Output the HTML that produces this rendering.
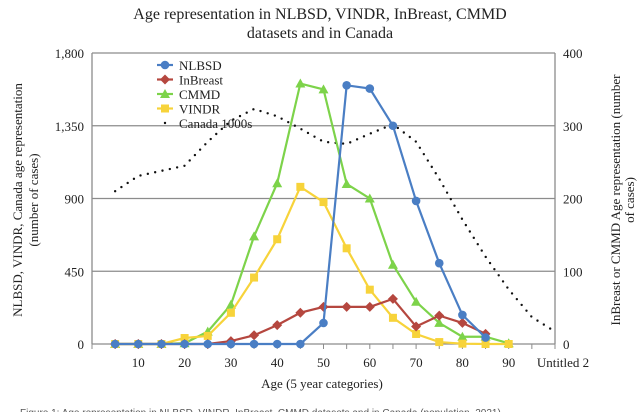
<!DOCTYPE html>
<html><head><meta charset="utf-8"><style>
html,body{margin:0;padding:0;background:#fff;}
svg{display:block;font-family:"Liberation Serif",serif;}
</style></head><body>
<svg id="chart" width="640" height="412" viewBox="0 0 640 412" xmlns="http://www.w3.org/2000/svg">
<text x="320" y="19" text-anchor="middle" font-size="16" fill="#222">Age representation in NLBSD, VINDR, InBreast, CMMD</text>
<text x="320" y="38" text-anchor="middle" font-size="16" fill="#222">datasets and in Canada</text>
<g id="grid"></g>
<g id="axes"></g>
<g id="series"></g>
<g id="legend"></g>
<text x="322" y="388" text-anchor="middle" font-size="13" fill="#222">Age (5 year categories)</text>
<text transform="translate(22,200) rotate(-90)" text-anchor="middle" font-size="13" fill="#222">NLBSD, VINDR,  Canada age representation</text>
<text transform="translate(38,200) rotate(-90)" text-anchor="middle" font-size="13" fill="#222">(number of cases)</text>
<text transform="translate(620,200) rotate(-90)" text-anchor="middle" font-size="13" fill="#222">InBreast or CMMD  Age representation (number</text>
<text transform="translate(634,200) rotate(-90)" text-anchor="middle" font-size="13" fill="#222">of cases)</text>
<text x="20" y="416" font-family="Liberation Sans, sans-serif" font-size="10" fill="#555">Figure 1: Age representation in NLBSD, VINDR, InBreast, CMMD datasets and in Canada (population, 2021)</text>
</svg>
<script>
const ages = [5,10,15,20,25,30,35,40,45,50,55,60,65,70,75,80,85,90,95,100];
const xTickLabels = ["10","20","30","40","50","60","70","80","90","Untitled 2"];
const leftTicks = [0,450,900,1350,1800];
const rightTicks = [0,100,200,300,400];
const nlbsd = [0,0,0,0,0,0,0,0,0,130,1600,1580,1350,885,500,180,40,null,null,null];
const vindr = [0,0,0,37,50,193,411,648,972,878,592,336,162,62,12,2,0,0,null,null];
const inbreast = [0,0,0,0,0,4,12,26,43,51,51,51,62,24,39,29,14,null,null,null];
const cmmd = [0,0,0,1,17,54,148,221,358,350,220,200,109,58,29,10,10,1,null,null];
const canada = [210,231,238,245,278,307,323,313,296,278,275,289,302,278,227,171,120,75,37,17];

const NS="http://www.w3.org/2000/svg";
const X0=92, X1=555, Y0=344, Y1=53;
function xs(i){return X0+(i+1)*(X1-X0)/20;}
function yl(v){return Y0-(v/1800)*(Y0-Y1);}
function yr(v){return Y0-(v/400)*(Y0-Y1);}
function mk(tag,attrs,parent){const e=document.createElementNS(NS,tag);for(const k in attrs)e.setAttribute(k,attrs[k]);parent.appendChild(e);return e;}
const grid=document.getElementById('grid'),axes=document.getElementById('axes'),ser=document.getElementById('series'),leg=document.getElementById('legend');

leftTicks.forEach((t,i)=>{
  const y=yl(t);
  if(t>0){const g=mk('line',{x1:X0,x2:X1,y1:y,y2:y,stroke:'#8c8c8c','stroke-width':1.3},grid);
  
  }
  const lt=mk('text',{x:X0-8,y:y+5,'text-anchor':'end','font-size':13,fill:'#222'},axes);
  lt.textContent=t.toLocaleString('en-US');
  
  
  const rt=mk('text',{x:X1+8,y:yr(rightTicks[i])+5,'font-size':13,fill:'#222'},axes);
  rt.textContent=String(rightTicks[i]);
  
  
});
let a=mk('line',{x1:X0,x2:X0,y1:Y1,y2:Y0,stroke:'#8c8c8c','stroke-width':1.3},axes);


a=mk('line',{x1:X1,x2:X1,y1:Y1,y2:Y0,stroke:'#8c8c8c','stroke-width':1.3},axes);


a=mk('line',{x1:X0,x2:X1,y1:Y0,y2:Y0,stroke:'#8c8c8c','stroke-width':1.3},axes);


for(let i=-1;i<20;i++){const x=xs(i);const tk=mk('line',{x1:x,x2:x,y1:Y0,y2:Y0+5,stroke:'#8c8c8c'},axes);
  
  }
xTickLabels.forEach((l,k)=>{
  const i=2*k+1;
  const t=mk('text',{x:xs(i)+(l.length>3?8:0),y:Y0+23,'text-anchor':'middle','font-size':13,fill:'#222'},axes);
  t.textContent=l;
  
  
});

function marker(type,x,y,color,parent){
  let e;
  if(type==='circle')e=mk('circle',{cx:x,cy:y,r:4.3,fill:color},parent);
  else if(type==='diamond')e=mk('path',{d:`M${x},${y-5}L${x+5},${y}L${x},${y+5}L${x-5},${y}Z`,fill:color},parent);
  else if(type==='tri')e=mk('path',{d:`M${x},${y-5}L${x+5},${y+4}L${x-5},${y+4}Z`,fill:color},parent);
  else e=mk('rect',{x:x-4,y:y-4,width:8,height:8,fill:color},parent);
  return e;
}
function drawSeries(name,vals,scale,color,type){
  const g=mk('g',{},ser);
  
  
  let pts=[];vals.forEach((v,i)=>{if(v!==null)pts.push([xs(i),scale(v)]);});
  const p=mk('polyline',{points:pts.map(p=>p.join(',')).join(' '),fill:'none',stroke:color,'stroke-width':2.2},g);
  
  
  pts.forEach(q=>{const m=marker(type,q[0],q[1],color,g);
    
    });
}
// canada dotted
{
  const g=mk('g',{},ser);
  
  
  const pts=canada.map((v,i)=>[xs(i),yr(v)]);
  const p=mk('polyline',{points:pts.map(p=>p.join(',')).join(' '),fill:'none',stroke:'#111','stroke-width':2.4,'stroke-dasharray':'0 7.5','stroke-linecap':'round'},g);
  
  
}
drawSeries('cmmd',cmmd,yr,'#7dd34a','tri');
drawSeries('vindr',vindr,yl,'#f7d33a','square');
drawSeries('inbreast',inbreast,yr,'#b5473f','diamond');
drawSeries('nlbsd',nlbsd,yl,'#4a7ec4','circle');

const legItems=[['NLBSD','#4a7ec4','circle'],['InBreast','#b5473f','diamond'],['CMMD','#7dd34a','tri'],['VINDR','#f7d33a','square'],['Canada 1000s','#111','dot']];
legItems.forEach((it,k)=>{
  const y=65+k*14.5;
  const g=mk('g',{},leg);
  
  
  if(it[2]==='dot'){mk('circle',{cx:165,cy:y,r:1.2,fill:'#111'},g);}
  else{mk('line',{x1:157,x2:173,y1:y,y2:y,stroke:it[1],'stroke-width':2.2},g);marker(it[2],165,y,it[1],g);}
  const t=mk('text',{x:179,y:y+5,'font-size':13,fill:'#222'},g);
  t.textContent=it[0];
});
</script>
</body></html>
